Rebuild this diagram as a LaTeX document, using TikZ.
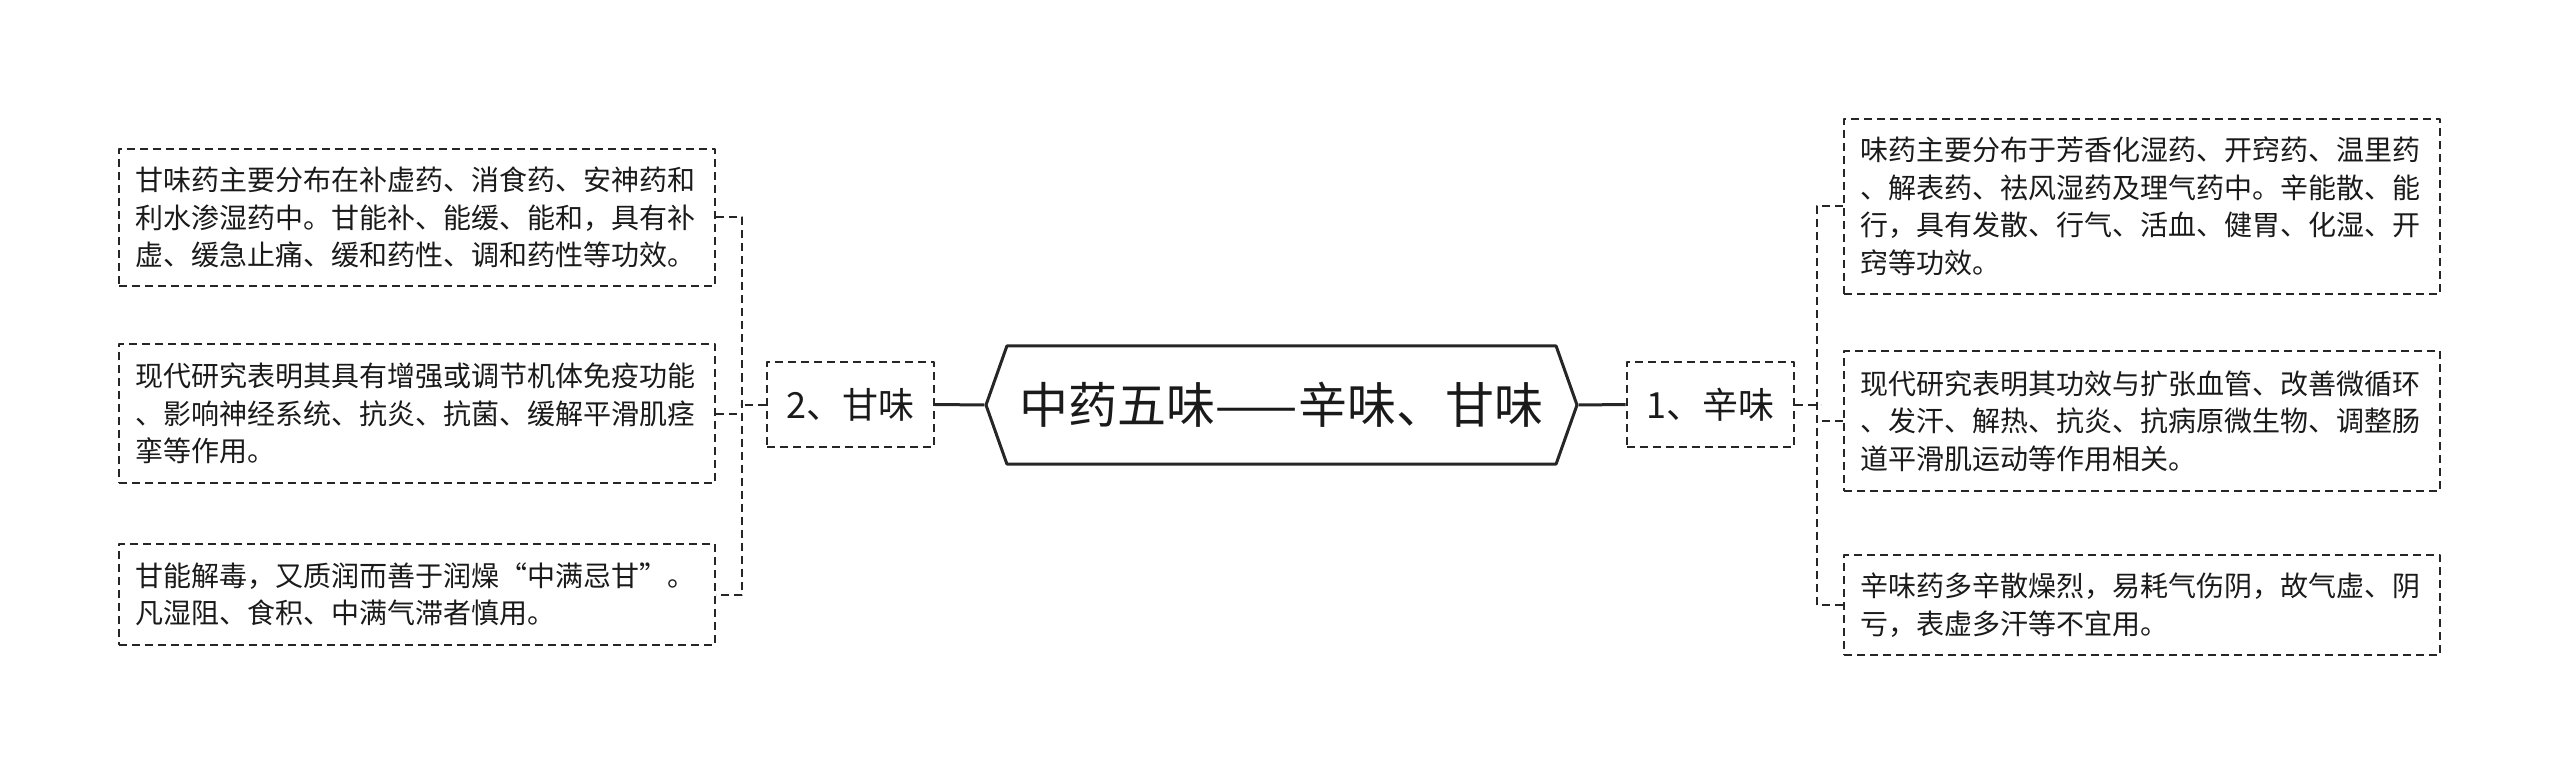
\documentclass[tikz,border=0pt]{standalone}
\usepackage{fontspec}
\setmainfont{Noto Sans CJK SC}
\usetikzlibrary{shapes.symbols}
\providecommand{\Ink}{262626}
\providecommand{\Words}{1A1A1A}
\newcommand{\Unit}{0.5pt}
\newcommand{\Dash}{1pt}
\newcommand{\Reach}{26}
\definecolor{ink}{HTML}{\Ink}
\definecolor{words}{HTML}{\Words}

\begin{document}
\begin{tikzpicture}[x=\Unit,y=-\Unit, line join=round,
  link/.style={ink,line width=\Dash,dash pattern=on 4pt off 2.5pt},
  trunk/.style={ink,line width=1.5pt},
  root/.style={signal,signal to=west and east,signal pointer angle=141,
    draw=ink,line width=1.5pt,minimum width=295.5pt,minimum height=59pt,
    inner sep=0pt,text=words,font=\fontsize{24.5}{28}\selectfont},
  taste/.style={link,draw,text=words,minimum width=83.5pt,minimum height=42.5pt,
    inner sep=0pt,font=\fontsize{18}{22}\selectfont},
  leaf/.style={link,draw,text=words,text width=282pt,align=left,
    inner xsep=8pt,inner ysep=0pt,font=\fontsize{14}{18.75}\selectfont}]

  \useasboundingbox (0,0) rectangle (2560,775);

  % ---- the title, pointed at both ends ----------------------------------
  \node[root] (root) at (1281.5,405) {中药五味——辛味、甘味};

  % ---- the two tastes, one on each side ---------------------------------
  \node[taste] (gan) at (850.5,404.5) {2、甘味};
  \node[taste] (xin) at (1710,404.5) {1、辛味};
  \draw[trunk] (root.west) -- (gan.east);
  \draw[trunk] (root.east) -- (xin.west);

  % ---- notes on the sweet taste, left -----------------------------------
  \node[leaf,minimum height=68.5pt] (gan1) at (417,217.5)
    {甘味药主要分布在补虚药、消食药、安神药和\\利水渗湿药中。甘能补、能缓、能和，具有补\\虚、缓急止痛、缓和药性、调和药性等功效。};
  \node[leaf,minimum height=69.5pt] (gan2) at (417,413.5)
    {现代研究表明其具有增强或调节机体免疫功能\\、影响神经系统、抗炎、抗菌、缓解平滑肌痉\\挛等作用。};
  \node[leaf,minimum height=50.5pt] (gan3) at (417,594.5)
    {甘能解毒，又质润而善于润燥“中满忌甘”。\\凡湿阻、食积、中满气滞者慎用。};

  % ---- notes on the pungent taste, right --------------------------------
  \node[leaf,minimum height=87.5pt] (xin1) at (2142,206.5)
    {味药主要分布于芳香化湿药、开窍药、温里药\\、解表药、祛风湿药及理气药中。辛能散、能\\行，具有发散、行气、活血、健胃、化湿、开\\窍等功效。};
  \node[leaf,minimum height=70pt] (xin2) at (2142,421)
    {现代研究表明其功效与扩张血管、改善微循环\\、发汗、解热、抗炎、抗病原微生物、调整肠\\道平滑肌运动等作用相关。};
  \node[leaf,minimum height=50pt] (xin3) at (2142,605)
    {辛味药多辛散燥烈，易耗气伤阴，故气虚、阴\\亏，表虚多汗等不宜用。};

  % ---- brackets: the outer notes close them, the middle one joins in ----
  \draw[link] (gan1.east) -- ++(\Reach,0) |- (gan3.east);
  \draw[link] (xin1.west) -- ++(-\Reach,0) |- (xin3.west);
  \foreach \n/\s in {gan2/1,gan/-1,xin2/-1,xin/1} {
    \draw[link] (\n.\ifnum\s=1 east\else west\fi) -- ++(\s*\Reach,0);
  }

\end{tikzpicture}
\end{document}
